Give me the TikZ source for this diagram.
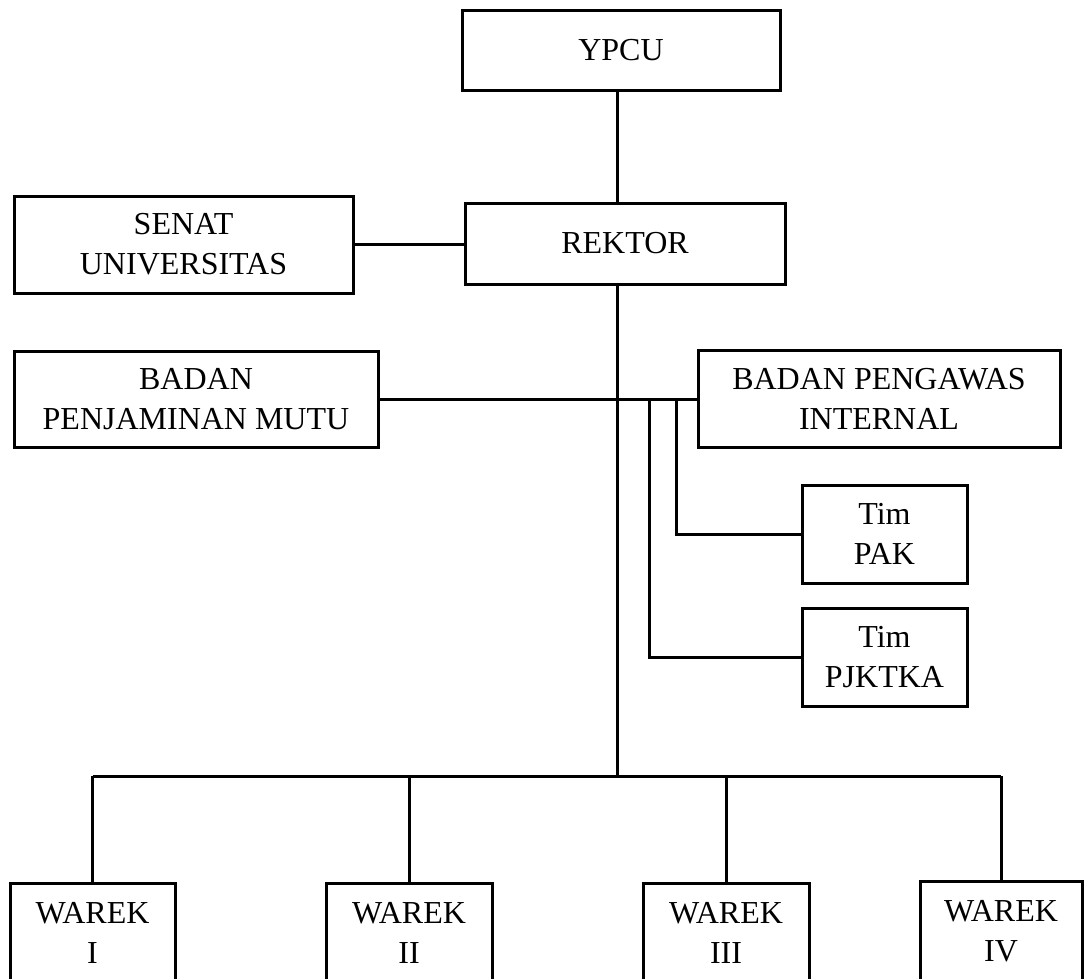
\documentclass[tikz,border=0pt]{standalone}
\usepackage{fontspec}
\setmainfont{Liberation Serif}
\begin{document}
\begin{tikzpicture}[x=1pt,y=-1pt,
   unit/.style={draw,line width=3pt,align=center,inner sep=0pt,
      font=\fontsize{32}{40}\selectfont},
   link/.style={line width=3pt}]
   \useasboundingbox (0,0) rectangle (1084,978);
   \node [unit,minimum width=318,minimum height=80] (ypcu) at (621,50) {YPCU};
   \node [unit,minimum width=320,minimum height=81] (rektor) at (625,243.5) {REKTOR};
   \node [unit,minimum width=339,minimum height=97] (senat) at (183.5,244.5) {SENAT\\UNIVERSITAS};
   \node [unit,minimum width=364,minimum height=96] (bpm) at (196,399) {BADAN\\PENJAMINAN MUTU};
   \node [unit,minimum width=362,minimum height=97] (bpi) at (879,398.5) {BADAN PENGAWAS\\INTERNAL};
   \node [unit,minimum width=165,minimum height=98] (pak) at (884.5,534) {Tim\\PAK};
   \node [unit,minimum width=165,minimum height=98] (pjktka) at (884.5,657) {Tim\\PJKTKA};
   \node [unit,minimum width=165,minimum height=100] (w1) at (92.5,933) {WAREK\\I};
   \node [unit,minimum width=166,minimum height=100] (w2) at (409,933) {WAREK\\II};
   \node [unit,minimum width=166,minimum height=100] (w3) at (726,933) {WAREK\\III};
   \node [unit,minimum width=162,minimum height=100] (w4) at (1001,931) {WAREK\\IV};
   \coordinate (spine) at (617,0);
   \coordinate (bus) at (617,776);
   \coordinate (pakdrop) at (676,399);
   \coordinate (pjkdrop) at (649,399);
   \draw [link] (ypcu.south -| spine) -- (rektor.north -| spine);
   \draw [link] (rektor.south -| spine) -- (bus);
   \draw [link] (senat.east) -- (senat.east -| rektor.west);
   \draw [link] (bpm.east) -- (bpm.east -| bpi.west);
   \draw [link] (pakdrop) |- (pak.west);
   \draw [link] (pjkdrop) |- (pjktka.west);
   \draw [link] (w1.north |- bus) -- (w4.north |- bus);
   \foreach \w in {w1,w2,w3,w4}
      \draw [link] (\w.north |- bus) -- (\w.north);
\end{tikzpicture}
\end{document}
